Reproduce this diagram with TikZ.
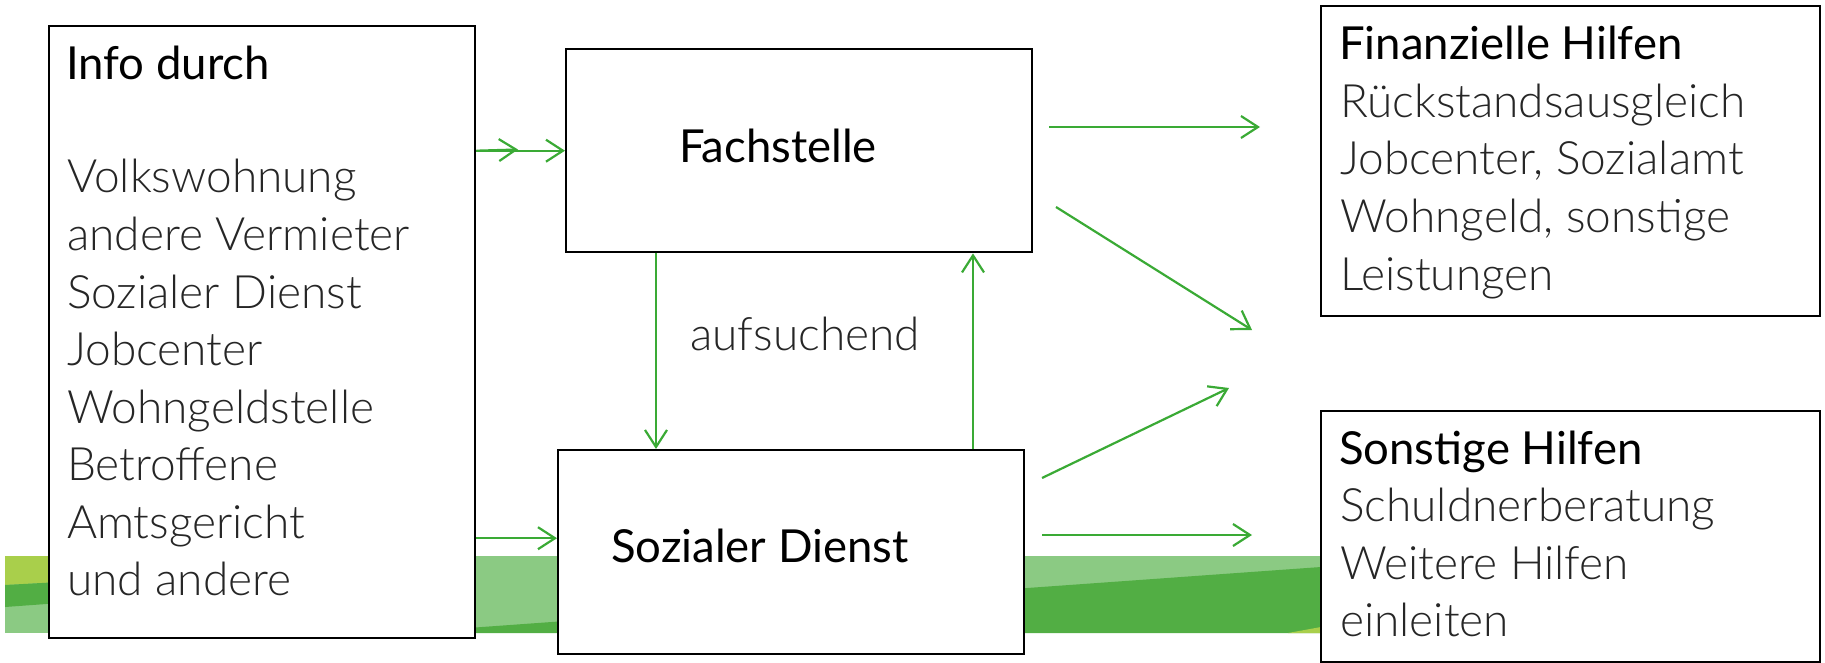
\documentclass[tikz,border=0pt]{standalone}
\usepackage{fontspec}
\setmainfont{Lato}
\newfontfamily\lightfont{Lato Light}
\usetikzlibrary{arrows.meta,calc}
\definecolor{arrgreen}{HTML}{3AAA35}
\definecolor{bandlight}{HTML}{8BCA83}
\definecolor{banddark}{HTML}{52AE44}
\definecolor{bandyellow}{HTML}{A9CF4B}
\begin{document}
\begin{tikzpicture}[x=1pt,y=-1pt,
  box/.style={draw=black, line width=2.4pt, fill=white, inner sep=0pt, anchor=north west},
  arr/.style={draw=arrgreen, line width=2.2pt, -{Straight Barb[length=17pt,width=22pt]}},
  title/.style={anchor=base west, inner sep=0pt, font=\fontsize{45.5}{55}\selectfont},
  item/.style={anchor=base west, inner sep=0pt, text=black!85, font=\lightfont\fontsize{46}{55}\selectfont},
]
\useasboundingbox (0,0) rectangle (1825,663);
% green band
\fill[bandlight] (5,556) rectangle (1321,633);
\fill[banddark] (440,630) -- (1321,567) -- (1321,633) -- (440,633) -- cycle;
\fill[bandyellow] (1288,633) -- (1321,627) -- (1321,633) -- cycle;
\fill[bandyellow] (5,556) -- (60,556) -- (60,582) -- (5,585) -- cycle;
\fill[banddark] (5,585) -- (60,582) -- (60,603) -- (5,607) -- cycle;
% boxes
\node[box, minimum width=426pt, minimum height=612pt] (info) at (48,25) {};
\node[box, minimum width=466pt, minimum height=203pt] (fach) at (565,48) {};
\node[box, minimum width=466pt, minimum height=204pt] (soz) at (557,449) {};
\node[box, minimum width=499pt, minimum height=310pt] (fin) at (1320,5) {};
\node[box, minimum width=499pt, minimum height=251pt] (son) at (1320,410) {};
% texts
\node[title] (t-info) at (66,80) {Info durch};
\node[item] (i1) at (67,193) {Volkswohnung};
\node[item] (i2) at (67,250.5) {andere Vermieter};
\node[item] (i3) at (67,308) {Sozialer Dienst};
\node[item] (i4) at (67,365.5) {Jobcenter};
\node[item] (i5) at (67,423) {Wohngeldstelle};
\node[item] (i6) at (67,480.5) {Betroffene};
\node[item] (i7) at (67,538) {Amtsgericht};
\node[item] (i8) at (67,595.5) {und andere};
\node[title] (t-fach) at (679,163) {Fachstelle};
\node[title] (t-soz) at (611,562) {Sozialer Dienst};
\node[item] (t-auf) at (690,350) {aufsuchend};
\node[title] (t-fin) at (1339,60) {Finanzielle Hilfen};
\node[item] (f1) at (1340,117.5) {Rückstandsausgleich};
\node[item] (f2) at (1340,175) {Jobcenter, Sozialamt};
\node[item] (f3) at (1340,232.5) {Wohngeld, sonstige};
\node[item] (f4) at (1340,290) {Leistungen};
\node[title] (t-son) at (1339,464) {Sonstige Hilfen};
\node[item] (s1) at (1340,521.5) {Schuldnerberatung};
\node[item] (s2) at (1340,579) {Weitere Hilfen};
\node[item] (s3) at (1340,636.5) {einleiten};
% connectors
\coordinate (mid1) at (518,149.5);
\draw[arr] (fach.west -| info.east) -- (fach.west);
\draw[arr] (fach.west -| info.east) -- (mid1);
\coordinate (sozin) at ([yshift=14pt]soz.west);
\draw[arr] (sozin -| info.east) -- (sozin);
\coordinate (down) at ([xshift=91pt]fach.south west);
\draw[arr] (down) -- (down |- soz.north);
\coordinate (up) at ([xshift=408pt]fach.south west);
\draw[arr] (up |- soz.north) -- (up);
\coordinate (r1a) at (1049,127);
\coordinate (r1b) at (1260,127);
\coordinate (r2a) at (1056,207);
\coordinate (r2b) at (1252,330);
\coordinate (r3a) at (1042,478);
\coordinate (r3b) at (1229,388);
\coordinate (r4a) at (1042,535);
\coordinate (r4b) at (1252,535);
\draw[arr] (r1a) -- (r1b);
\draw[arr] (r2a) -- (r2b);
\draw[arr] (r3a) -- (r3b);
\draw[arr] (r4a) -- (r4b);
\end{tikzpicture}
\end{document}
